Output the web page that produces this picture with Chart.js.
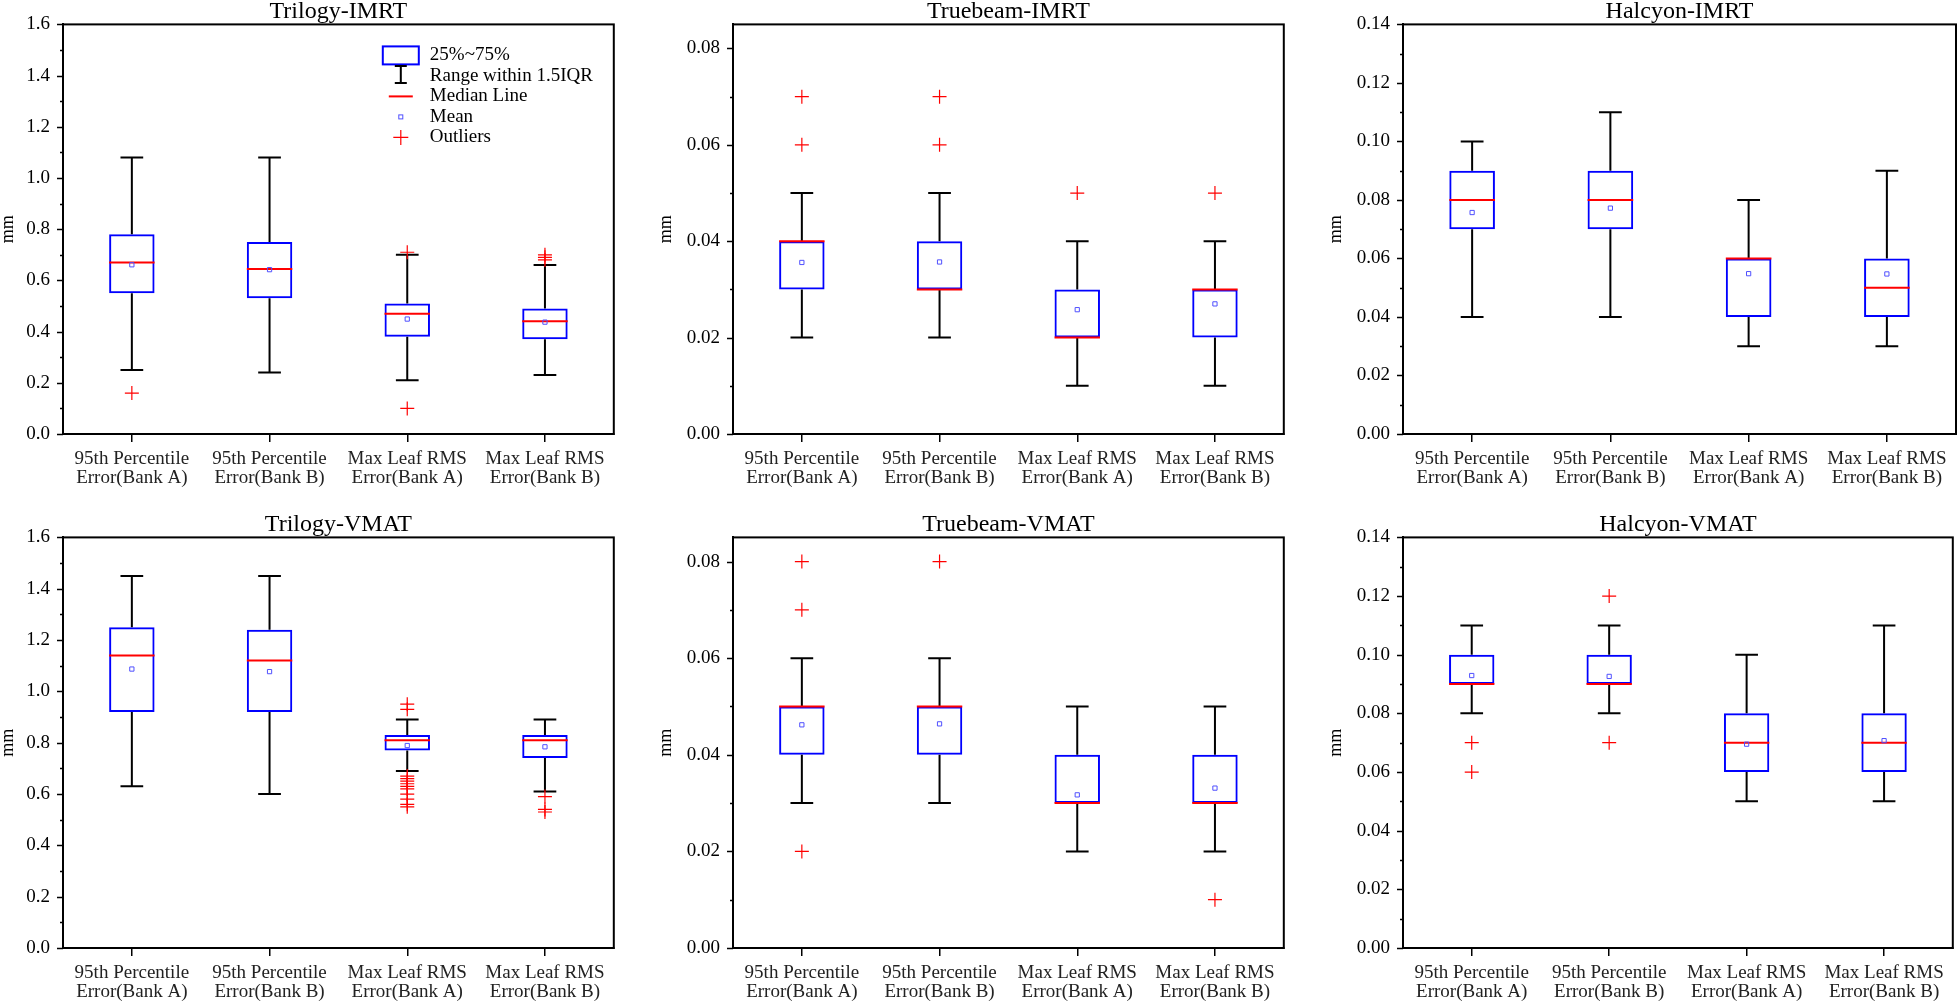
<!DOCTYPE html>
<html>
<head>
<meta charset="utf-8">
<script src="https://cdn.jsdelivr.net/npm/chart.js@4.4.1/dist/chart.umd.min.js"></script>
<style>
  html, body { margin: 0; padding: 0; background: #fff; overflow: hidden; }
  body { width: 1960px; height: 1001px; position: relative; }
  canvas { position: absolute; }
</style>
</head>
<body>
<canvas id="c0"></canvas>
<canvas id="c1"></canvas>
<canvas id="c2"></canvas>
<canvas id="c3"></canvas>
<canvas id="c4"></canvas>
<canvas id="c5"></canvas>
<script>
// categories (same for all panels)
const categories = [
  ['95th Percentile', 'Error(Bank A)'],
  ['95th Percentile', 'Error(Bank B)'],
  ['Max Leaf RMS', 'Error(Bank A)'],
  ['Max Leaf RMS', 'Error(Bank B)']
];

// panel order: Trilogy-IMRT, Truebeam-IMRT, Halcyon-IMRT, Trilogy-VMAT, Truebeam-VMAT, Halcyon-VMAT
const panelTitles = ['Trilogy-IMRT', 'Truebeam-IMRT', 'Halcyon-IMRT', 'Trilogy-VMAT', 'Truebeam-VMAT', 'Halcyon-VMAT'];
const yMax = [1.6, 0.085, 0.14, 1.6, 0.085, 0.14];
const yMinorStep = [0.1, 0.01, 0.01, 0.1, 0.01, 0.01];
const yMajorStep = [0.2, 0.02, 0.02, 0.2, 0.02, 0.02];
const yDecimals = [1, 2, 2, 1, 2, 2];

// 25% / 75% quartiles
const q1 = [
  [0.55, 0.53, 0.38, 0.37],
  [0.03, 0.03, 0.02, 0.02],
  [0.07, 0.07, 0.04, 0.04],
  [0.92, 0.92, 0.77, 0.74],
  [0.04, 0.04, 0.03, 0.03],
  [0.09, 0.09, 0.06, 0.06]
];
const q3 = [
  [0.78, 0.75, 0.51, 0.49],
  [0.04, 0.04, 0.03, 0.03],
  [0.09, 0.09, 0.06, 0.06],
  [1.25, 1.24, 0.83, 0.83],
  [0.05, 0.05, 0.04, 0.04],
  [0.10, 0.10, 0.08, 0.08]
];
const medians = [
  [0.67, 0.645, 0.47, 0.44],
  [0.04, 0.03, 0.02, 0.03],
  [0.08, 0.08, 0.06, 0.05],
  [1.14, 1.12, 0.81, 0.81],
  [0.05, 0.05, 0.03, 0.03],
  [0.09, 0.09, 0.07, 0.07]
];
const means = [
  [0.661, 0.642, 0.449, 0.437],
  [0.0356, 0.0357, 0.0258, 0.0270],
  [0.0757, 0.0772, 0.0548, 0.0547],
  [1.087, 1.077, 0.789, 0.784],
  [0.0462, 0.0464, 0.0317, 0.0331],
  [0.0929, 0.0926, 0.0695, 0.0707]
];
// range within 1.5IQR
const whiskerLow = [
  [0.25, 0.24, 0.21, 0.23],
  [0.02, 0.02, 0.01, 0.01],
  [0.04, 0.04, 0.03, 0.03],
  [0.63, 0.60, 0.69, 0.61],
  [0.03, 0.03, 0.02, 0.02],
  [0.08, 0.08, 0.05, 0.05]
];
const whiskerHigh = [
  [1.08, 1.08, 0.70, 0.66],
  [0.05, 0.05, 0.04, 0.04],
  [0.10, 0.11, 0.08, 0.09],
  [1.45, 1.45, 0.89, 0.89],
  [0.06, 0.06, 0.05, 0.05],
  [0.11, 0.11, 0.10, 0.11]
];
const outliers = [
  [[0.16], [], [0.71, 0.10], [0.68, 0.69, 0.70]],
  [[0.06, 0.07], [0.06, 0.07], [0.05], [0.05]],
  [[], [], [], []],
  [[], [], [0.95, 0.93, 0.67, 0.66, 0.65, 0.64, 0.63, 0.62, 0.60, 0.58, 0.56, 0.55], [0.59, 0.54, 0.53]],
  [[0.08, 0.07, 0.02], [0.08], [], [0.01]],
  [[0.07, 0.06], [0.12, 0.07], [], []]
];

const legendItems = ['25%~75%', 'Range within 1.5IQR', 'Median Line', 'Mean', 'Outliers'];

// canvas placement of each panel (px)
const panelLayout = [
  { left: -3,   top: 0,   width: 625, height: 500, axisW: 66, axisH: 66 },
  { left: 655,  top: 0,   width: 637, height: 500, axisW: 78, axisH: 66 },
  { left: 1325, top: 0,   width: 636, height: 500, axisW: 78, axisH: 66 },
  { left: -3,   top: 513, width: 625, height: 488, axisW: 66, axisH: 53 },
  { left: 655,  top: 513, width: 637, height: 488, axisW: 78, axisH: 53 },
  { left: 1325, top: 513, width: 636, height: 488, axisW: 78, axisH: 53 }
];

const fontFamily = "'Liberation Serif', 'Times New Roman', serif";
const BLUE = '#0000ff';
const RED = '#ff0000';

function isMultiple(v, step) {
  const r = v / step;
  return Math.abs(r - Math.round(r)) < 1e-6;
}

// whiskers, medians, frame, minor ticks and legend
const boxPlotPlugin = {
  id: 'boxPlot',
  afterDatasetDraw(chart, args, opts) {
    if (args.index !== 0) return;
    const p = opts.panel;
    const y = chart.scales.y;
    const ctx = chart.ctx;
    const bars = chart.getDatasetMeta(0).data;
    ctx.save();
    bars.forEach((el, i) => {
      const x = el.x;
      const half = el.width / 2;
      const cap = el.width / 4;
      const yHi = y.getPixelForValue(whiskerHigh[p][i]);
      const yLo = y.getPixelForValue(whiskerLow[p][i]);
      const yQ3 = y.getPixelForValue(q3[p][i]);
      const yQ1 = y.getPixelForValue(q1[p][i]);
      ctx.strokeStyle = '#000';
      ctx.lineWidth = 2;
      ctx.beginPath();
      ctx.moveTo(x, yQ3); ctx.lineTo(x, yHi);
      ctx.moveTo(x - cap, yHi); ctx.lineTo(x + cap, yHi);
      ctx.moveTo(x, yQ1); ctx.lineTo(x, yLo);
      ctx.moveTo(x - cap, yLo); ctx.lineTo(x + cap, yLo);
      ctx.stroke();
      const yMed = y.getPixelForValue(medians[p][i]);
      ctx.strokeStyle = RED;
      ctx.lineWidth = 2;
      ctx.beginPath();
      ctx.moveTo(x - half, yMed); ctx.lineTo(x + half, yMed);
      ctx.stroke();
    });
    ctx.restore();
  },
  afterDraw(chart, args, opts) {
    const p = opts.panel;
    const ctx = chart.ctx;
    const a = chart.chartArea;
    const y = chart.scales.y;
    ctx.save();
    // frame
    ctx.strokeStyle = '#000';
    ctx.lineWidth = 2;
    ctx.strokeRect(a.left, a.top, a.right - a.left, a.bottom - a.top);
    // y tick marks (major + minor)
    ctx.lineWidth = 1.5;
    ctx.beginPath();
    y.ticks.forEach(t => {
      if (!isMultiple(t.value, yMinorStep[p])) return;
      const len = isMultiple(t.value, yMajorStep[p]) ? 6 : 3;
      const py = Math.round(y.getPixelForValue(t.value)) + 0.5;
      ctx.moveTo(a.left - len, py);
      ctx.lineTo(a.left, py);
    });
    ctx.stroke();

    if (opts.legend) {
      const x0 = a.right - 232;
      const cx = x0 + 19;
      const tx = x0 + 48;
      const rowY = i => a.top + 31 + i * 20.5;
      // box
      ctx.strokeStyle = BLUE;
      ctx.lineWidth = 2;
      ctx.strokeRect(x0 + 1, rowY(0) - 9, 36, 18);
      // range I-beam
      ctx.strokeStyle = '#000';
      ctx.beginPath();
      ctx.moveTo(cx, rowY(1) - 10); ctx.lineTo(cx, rowY(1) + 7);
      ctx.moveTo(cx - 6, rowY(1) - 10); ctx.lineTo(cx + 6, rowY(1) - 10);
      ctx.moveTo(cx - 6, rowY(1) + 7); ctx.lineTo(cx + 6, rowY(1) + 7);
      ctx.stroke();
      // median
      ctx.strokeStyle = RED;
      ctx.beginPath();
      ctx.moveTo(cx - 12, rowY(2)); ctx.lineTo(cx + 12, rowY(2));
      ctx.stroke();
      // mean
      ctx.strokeStyle = '#5050ff';
      ctx.lineWidth = 1;
      ctx.strokeRect(cx - 2, rowY(3) - 2, 4, 4);
      // outliers
      ctx.strokeStyle = RED;
      ctx.lineWidth = 1.2;
      ctx.beginPath();
      ctx.moveTo(cx - 7.5, rowY(4)); ctx.lineTo(cx + 7.5, rowY(4));
      ctx.moveTo(cx, rowY(4) - 7.5); ctx.lineTo(cx, rowY(4) + 7.5);
      ctx.stroke();
      ctx.fillStyle = '#000';
      ctx.font = '19px ' + fontFamily;
      ctx.textBaseline = 'middle';
      ctx.textAlign = 'left';
      legendItems.forEach((txt, i) => ctx.fillText(txt, tx, rowY(i)));
    }
    ctx.restore();
  }
};

function makePanel(p) {
  const lay = panelLayout[p];
  const canvas = document.getElementById('c' + p);
  canvas.width = lay.width;
  canvas.height = lay.height;
  canvas.style.left = lay.left + 'px';
  canvas.style.top = lay.top + 'px';

  const outlierPoints = [];
  outliers[p].forEach((list, i) => list.forEach(v => outlierPoints.push({ x: i, y: v })));

  return new Chart(canvas.getContext('2d'), {
    type: 'bar',
    data: {
      labels: categories,
      datasets: [
        {
          type: 'bar',
          label: '25%~75%',
          data: q1[p].map((v, i) => [v, q3[p][i]]),
          backgroundColor: 'rgba(0,0,0,0)',
          borderColor: BLUE,
          borderWidth: 2,
          borderSkipped: false,
          grouped: false,
          barPercentage: 0.33,
          categoryPercentage: 1,
          order: 3
        },
        {
          type: 'line',
          label: 'Outliers',
          xAxisID: 'xp',
          data: outlierPoints,
          showLine: false,
          pointStyle: 'cross',
          pointRadius: 7,
          pointBorderColor: RED,
          pointBackgroundColor: RED,
          pointBorderWidth: 1.2,
          order: 2
        },
        {
          type: 'line',
          label: 'Mean',
          xAxisID: 'xp',
          data: means[p].map((v, i) => ({ x: i, y: v })),
          showLine: false,
          pointStyle: 'rect',
          pointRadius: 3,
          pointBorderColor: '#5050ff',
          pointBackgroundColor: 'rgba(0,0,0,0)',
          pointBorderWidth: 1,
          order: 1
        }
      ]
    },
    options: {
      responsive: false,
      animation: false,
      events: [],
      layout: { padding: { right: 2 } },
      scales: {
        x: {
          type: 'category',
          offset: true,
          grid: { display: true, drawOnChartArea: false, drawTicks: true, tickLength: 8, color: '#000', lineWidth: 1.5, offset: false },
          border: { display: true, color: '#000', width: 2 },
          ticks: {
            autoSkip: false, maxRotation: 0, padding: 7, color: '#222',
            font: { family: fontFamily, size: 19, lineHeight: 1.03 }
          },
          afterFit(scale) { scale.height = lay.axisH; }
        },
        xp: {
          type: 'linear',
          display: false,
          offset: false,
          min: -0.5,
          max: 3.5
        },
        y: {
          type: 'linear',
          min: 0,
          max: yMax[p],
          grid: { display: false, drawTicks: false },
          border: { display: true, color: '#000', width: 2 },
          ticks: {
            stepSize: yMinorStep[p],
            autoSkip: false,
            padding: 13,
            color: '#000',
            font: { family: fontFamily, size: 19 },
            callback: v => isMultiple(v, yMajorStep[p]) ? v.toFixed(yDecimals[p]) : ''
          },
          title: { display: true, text: 'mm', color: '#000', padding: 0, font: { family: fontFamily, size: 18 } },
          afterFit(scale) { scale.width = lay.axisW; }
        }
      },
      plugins: {
        legend: { display: false },
        tooltip: { enabled: false },
        title: {
          display: true,
          text: panelTitles[p],
          fullSize: false,
          color: '#000',
          padding: { top: -2, bottom: 2 },
          font: { family: fontFamily, size: 24, weight: 'normal', lineHeight: 22 / 24 }
        },
        boxPlot: { panel: p, legend: p === 0 }
      }
    },
    plugins: [boxPlotPlugin]
  });
}

for (let p = 0; p < 6; p++) makePanel(p);
</script>
</body>
</html>
